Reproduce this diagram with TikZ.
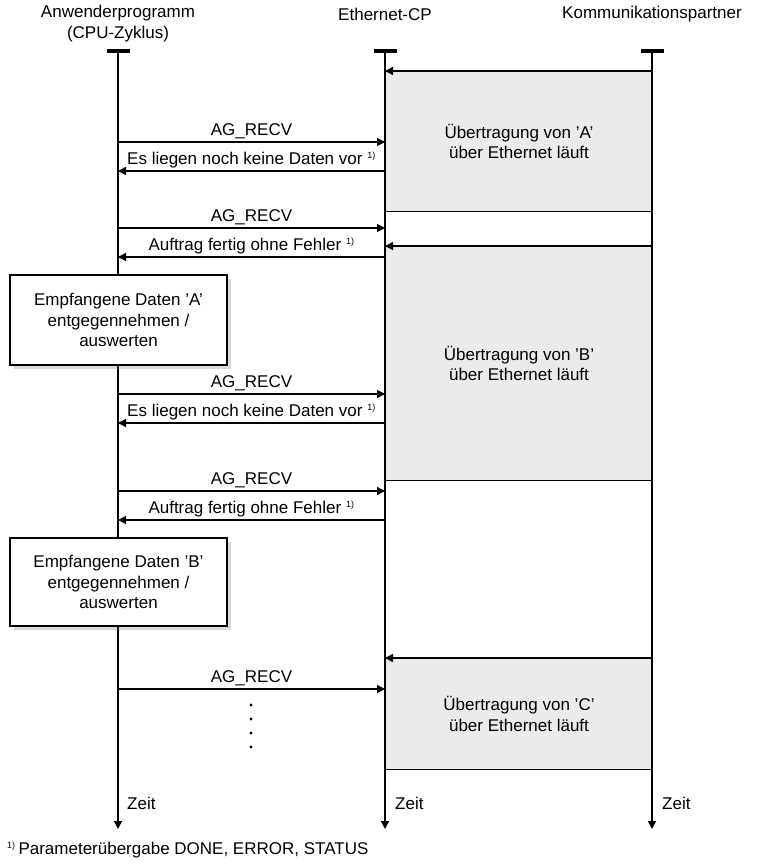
\documentclass[tikz,border=0pt]{standalone}
\usepackage{fontspec}
\setmainfont{Liberation Sans}
\usepackage{tikz}
\usetikzlibrary{arrows.meta,shadows}
\tikzset{>={Triangle[width=8pt,length=8pt]}}
\definecolor{transfergray}{HTML}{EBEBEB}
\newcommand{\diafont}{\fontsize{17}{20.5}\selectfont}
\newcommand{\fnmark}{\textsuperscript{\fontsize{9}{9}\selectfont 1)}}

\begin{document}
\begin{tikzpicture}[x=1pt,y=-1pt,
  every node/.style={font=\diafont},
  lifehead/.style={fill=black,minimum width=23pt,minimum height=4.5pt,inner sep=0pt},
  lifeline/.style={->,line width=1.4pt},
  msg/.style={->,line width=1.4pt},
  lbl/.style={midway,above,inner sep=2.5pt},
  transfer/.style={fill=transfergray,draw=black,line width=1pt,anchor=north west,minimum width=267pt,align=center,inner sep=0pt},
  taskbox/.style={draw=black,line width=1.6pt,fill=white,minimum width=217pt,align=center,inner sep=0pt,drop shadow={shadow xshift=4pt,shadow yshift=-4pt,opacity=0.3}}]
\useasboundingbox (0,0) rectangle (760,864);

% heads of the three lifelines
\node[lifehead] (app) at (118,51) {};
\node[lifehead] (cp) at (385,51) {};
\node[lifehead] (kp) at (652,51) {};
\node[align=center,inner sep=0pt] (apptitle) at (118,23.5) {Anwenderprogramm\\(CPU-Zyklus)};
\node[inner sep=0pt] (cptitle) at (385,14) {Ethernet-CP};
\node[inner sep=0pt] (kptitle) at (652,14) {Kommunikationspartner};

% ends of the lifelines
\coordinate (append) at (118,829);
\coordinate (cpend) at (385,829);
\coordinate (kpend) at (652,829);

% transfers via Ethernet
\node[transfer,minimum height=140pt] (trA) at (385,71) {Übertragung von 'A'\\über Ethernet läuft};
\node[transfer,minimum height=234pt] (trB) at (385,246) {Übertragung von 'B'\\über Ethernet läuft};
\node[transfer,minimum height=111pt] (trC) at (385,658) {Übertragung von 'C'\\über Ethernet läuft};
\draw[msg] (trA.north east) -- (trA.north west);
\draw[msg] (trB.north east) -- (trB.north west);
\draw[msg] (trC.north east) -- (trC.north west);

\draw[lifeline] (app.center) -- (append);
\draw[lifeline] (cp.center) -- (cpend);
\draw[lifeline] (kp.center) -- (kpend);

% processing in the user program
\node[taskbox,minimum height=90pt] (procA) at (118.5,320) {Empfangene Daten 'A'\\entgegennehmen /\\auswerten};
\node[taskbox,minimum height=88pt] (procB) at (118.5,582) {Empfangene Daten 'B'\\entgegennehmen /\\auswerten};

% calls and replies
\coordinate (call1) at (118,142);
\coordinate (resp1) at (385,171);
\coordinate (call2) at (118,228);
\coordinate (resp2) at (385,257);
\coordinate (call3) at (118,394);
\coordinate (resp3) at (385,423);
\coordinate (call4) at (118,491);
\coordinate (resp4) at (385,520);
\coordinate (call5) at (118,689);

\draw[msg] (call1) -- (call1 -| cp) node[lbl] {AG\_RECV};
\draw[msg] (resp1) -- (resp1 -| app) node[lbl] {Es liegen noch keine Daten vor \fnmark};
\draw[msg] (call2) -- (call2 -| cp) node[lbl] {AG\_RECV};
\draw[msg] (resp2) -- (resp2 -| app) node[lbl] {Auftrag fertig ohne Fehler \fnmark};
\draw[msg] (call3) -- (call3 -| cp) node[lbl] {AG\_RECV};
\draw[msg] (resp3) -- (resp3 -| app) node[lbl] {Es liegen noch keine Daten vor \fnmark};
\draw[msg] (call4) -- (call4 -| cp) node[lbl] {AG\_RECV};
\draw[msg] (resp4) -- (resp4 -| app) node[lbl] {Auftrag fertig ohne Fehler \fnmark};
\draw[msg] (call5) -- (call5 -| cp) node[lbl] {AG\_RECV};

\foreach \d in {705,719,733,747}
  \fill (251,\d) circle (1.7pt);

% time axes
\node[anchor=west,inner sep=0pt] (appzeit) at (127,803) {Zeit};
\node[anchor=west,inner sep=0pt] (cpzeit) at (395,803) {Zeit};
\node[anchor=west,inner sep=0pt] (kpzeit) at (662,803) {Zeit};

\node[anchor=west,inner sep=0pt] (footnote) at (7,850) {\fnmark\,Parameterübergabe DONE, ERROR, STATUS};
\end{tikzpicture}
\end{document}
